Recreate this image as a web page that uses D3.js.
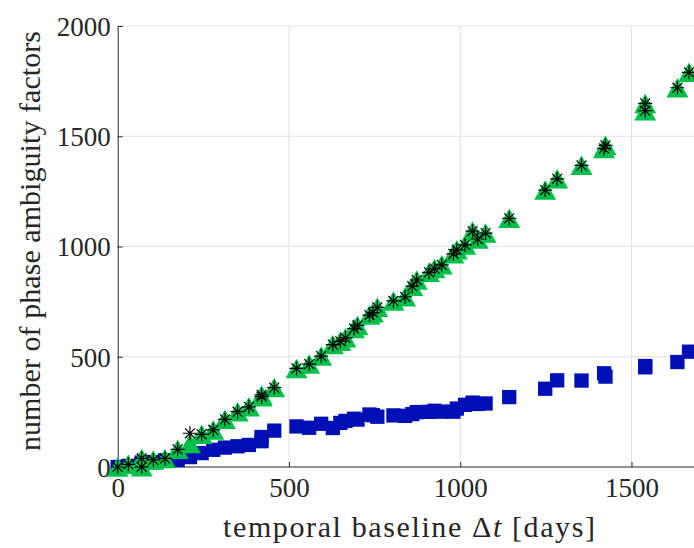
<!DOCTYPE html>
<html>
<head>
<meta charset="utf-8">
<script src="https://cdn.jsdelivr.net/npm/d3@7"></script>
<style>
  html, body { margin: 0; padding: 0; background: #fff; }
  svg { display: block; font-family: "Liberation Serif", "DejaVu Serif", serif; }
</style>
</head>
<body>
<div id="chart"></div>
<script>
// temporal baselines [days]
const baselines = [0, 31, 70, 70, 104, 138, 175, 211, 245, 279, 313, 350, 383, 420, 420, 457,
  522, 559, 594, 628, 650, 665, 690, 700, 735, 745, 758, 805, 839, 860, 873, 909, 925, 946, 980, 990,
  1014, 1036, 1051, 1074, 1143, 1248, 1283, 1354, 1424, 1420, 1540, 1540, 1634, 1668];
// total ambiguity factors (green triangles)
const totalFactors = [0, 12, 1, 39, 32, 39, 80, 107, 148, 168, 216, 251, 273, 319, 327, 360,
  447, 467, 503, 555, 570, 586, 628, 642, 689, 700, 724, 753, 772, 820, 848, 883, 900, 917, 967, 985,
  1007, 1070, 1034, 1061, 1128, 1256, 1307, 1368, 1459, 1445, 1649, 1616, 1720, 1790];
// estimated factors (black asterisks)
const estFactors = [0, 12, 1, 39, 32, 39, 80, 153, 148, 168, 216, 251, 273, 319, 327, 360,
  447, 467, 503, 555, 570, 586, 628, 642, 689, 700, 724, 753, 772, 820, 848, 883, 900, 917, 967, 985,
  1007, 1070, 1034, 1061, 1128, 1256, 1307, 1368, 1459, 1445, 1649, 1616, 1720, 1790];
// remaining factors (blue squares)
const blueFactors = [0, 5, 10, 20, 22, 30, 32, 45, 63, 78, 88, 94, 100, 117, 136, 165,
  184, 178, 196, 177, 200, 209, 219, 215, 238, 235, 228, 234, 232, 240, 249, 250, 255, 251, 251, 265,
  282, 292, 286, 288, 317, 355, 393, 392, 410, 425, 452, 458, 476, 523];

const xTicks = [0, 500, 1000, 1500];
const yTicks = [0, 500, 1000, 1500, 2000];

const W = 694, H = 548;
const svg = d3.select("#chart").append("svg").attr("width", W).attr("height", H);

const x = d3.scaleLinear().domain([0, 1500]).range([117.7, 631.5]);
const y = d3.scaleLinear().domain([0, 2000]).range([467, 26]);
const xMax = x.invert(W + 5);

// grid
const grid = svg.append("g").attr("stroke", "#e1e1e1").attr("stroke-width", 1);
grid.selectAll("line.v").data(xTicks.filter(d => d > 0)).join("line")
  .attr("x1", d => x(d)).attr("x2", d => x(d)).attr("y1", y(0)).attr("y2", y(2000));
grid.selectAll("line.h").data(yTicks.filter(d => d > 0)).join("line")
  .attr("x1", x(0)).attr("x2", x(xMax)).attr("y1", d => y(d)).attr("y2", d => y(d));

// axes
const xAxis = d3.axisBottom(x).tickValues(xTicks).tickSize(-5).tickPadding(11).tickFormat(d3.format("d"));
const yAxis = d3.axisLeft(y).tickValues(yTicks).tickSize(-5).tickPadding(7).tickFormat(d3.format("d"));

const gx = svg.append("g").attr("transform", `translate(0,${y(0)})`).call(xAxis);
gx.select(".domain").attr("d", `M${x(0)},0H${x(xMax)}`);
const gy = svg.append("g").attr("transform", `translate(${x(0)},0)`).call(yAxis);
[gx, gy].forEach(g => {
  g.select(".domain").attr("stroke", "#262626").attr("stroke-width", 1);
  g.selectAll(".tick line").attr("stroke", "#262626");
  g.selectAll(".tick text").attr("fill", "#262626").style("font-size", "27px")
    .style("font-family", "'Liberation Serif', serif");
});
gy.selectAll(".tick text").attr("dy", "0.35em");
gx.selectAll(".tick text").attr("dy", "0.71em");

// markers
const pts = baselines.map((b, i) => ({ b, g: totalFactors[i], e: estFactors[i], bl: blueFactors[i] }));

const sq = 14.3;
svg.append("g").selectAll("rect").data(pts).join("rect")
  .attr("x", d => x(d.b) - sq / 2).attr("y", d => y(d.bl) - sq / 2)
  .attr("width", sq).attr("height", sq).attr("fill", "#0010b4");

const tw = 22, th = 19.5;
svg.append("g").selectAll("path").data(pts).join("path")
  .attr("d", d => {
    const cx = x(d.b), cy = y(d.g);
    return `M${cx},${cy - th / 2}L${cx + tw / 2},${cy + th / 2}L${cx - tw / 2},${cy + th / 2}Z`;
  })
  .attr("fill", "#00c04b");

const r = 7;
const c = Math.SQRT1_2 * r;
svg.append("g").selectAll("path").data(pts).join("path")
  .attr("d", d => {
    const cx = x(d.b), cy = y(d.e);
    return `M${cx - r},${cy}H${cx + r}M${cx},${cy - r}V${cy + r}` +
      `M${cx - c},${cy - c}L${cx + c},${cy + c}M${cx - c},${cy + c}L${cx + c},${cy - c}`;
  })
  .attr("stroke", "#000").attr("stroke-width", 1.2).attr("fill", "none");

// labels
const xl = svg.append("text").attr("x", 409).attr("y", 537).attr("text-anchor", "middle")
  .attr("fill", "#262626").style("font-size", "30px")
  .attr("textLength", 372).attr("lengthAdjust", "spacing");
xl.append("tspan").text("temporal baseline Δ");
xl.append("tspan").style("font-style", "italic").text("t");
xl.append("tspan").text(" [days]");

svg.append("text").attr("transform", "translate(29,241) rotate(-90)")
  .attr("text-anchor", "middle").attr("dy", "0.35em").attr("fill", "#262626")
  .style("font-size", "30px").attr("textLength", 420).attr("lengthAdjust", "spacing")
  .text("number of phase ambiguity factors");
</script>
</body>
</html>
